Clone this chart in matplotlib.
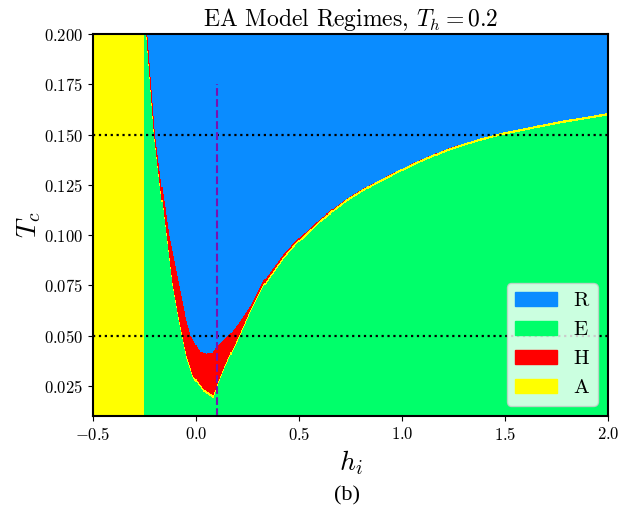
import numpy as np
import matplotlib
matplotlib.use("Agg")
import matplotlib.pyplot as plt
from matplotlib.colors import ListedColormap
from matplotlib.patches import Patch

plt.rcParams['font.family'] = ['cmr10', 'DejaVu Serif']
plt.rcParams['mathtext.fontset'] = 'cm'
plt.rcParams['axes.formatter.use_mathtext'] = True
plt.rcParams['axes.unicode_minus'] = True

# regimes, in plotting order
regime_labels = ['R', 'E', 'H', 'A']
regime_colors = ['#0a8cff', '#00ff6a', '#ff0000', '#ffff00']

# A regime for h_i below this
h_a = -0.25

# outer edge of the V (E below it)
outer_h = [-0.242, -0.204, -0.175, -0.145, -0.115, -0.086, -0.069, -0.045, -0.013,
           0.035, 0.084, 0.110, 0.140, 0.175, 0.214, 0.260, 0.330, 0.424, 0.489,
           0.602, 0.732, 0.845, 0.950, 1.055, 1.217, 1.379, 1.508, 1.767, 2.0]
outer_T = [0.2, 0.150, 0.1244, 0.100, 0.0749, 0.0584, 0.050, 0.0385, 0.0286,
           0.022, 0.0187, 0.0260, 0.0335, 0.0415, 0.050, 0.0605, 0.0745, 0.088, 0.0955,
           0.1063, 0.1165, 0.1235, 0.1290, 0.1345, 0.1415, 0.1468, 0.1502, 0.1555, 0.1595]

# inner edge (R above it)
inner_h = [-0.236, -0.198, -0.166, -0.130, -0.080, -0.048, -0.025, 0.019, 0.050,
           0.078, 0.100, 0.165, 0.220, 0.270, 0.330, 0.424, 0.489, 0.602, 0.732,
           0.845, 0.950, 1.055, 1.217, 1.379, 1.508, 1.767, 2.0]
inner_T = [0.2, 0.150, 0.1244, 0.100, 0.0749, 0.0584, 0.050, 0.0418, 0.0410,
           0.0412, 0.0443, 0.0505, 0.0580, 0.0655, 0.0775, 0.0905, 0.0977, 0.1081, 0.1180,
           0.1249, 0.1303, 0.1358, 0.1428, 0.1480, 0.1514, 0.1567, 0.1607]

# width of the A fringe along the outer edge
fringe = 0.0012

h_grid = np.arange(-0.5, 2.0001, 0.005)
T_grid = np.arange(0.01, 0.2001, 0.0005)

H, T = np.meshgrid(h_grid, T_grid)
t_out = np.interp(H, outer_h, outer_T)
t_in = np.interp(H, inner_h, inner_T)
regime = np.ones(H.shape, dtype=int)
regime[T >= t_out] = 3
regime[T >= t_out + fringe] = 2
regime[T >= t_in] = 0
regime[H < h_a] = 3

fig = plt.figure(figsize=(6.43, 5.24), dpi=100)
ax = fig.add_axes([0.1446, 0.206, 0.801, 0.729])
cmap = ListedColormap(regime_colors)
ax.pcolormesh(h_grid, T_grid, regime, cmap=cmap, vmin=-0.5, vmax=3.5, shading='nearest')
ax.set_xlim(-0.5, 2.0)
ax.set_ylim(0.01, 0.2)

ax.axhline(0.05, color='black', ls=':', lw=1.6)
ax.axhline(0.15, color='black', ls=':', lw=1.6)
ax.vlines(0.1, 0.01, 0.175, colors='#7a10b0', linestyles='--', lw=1.5)

ax.set_xticks([-0.5, 0.0, 0.5, 1.0, 1.5, 2.0])
ax.set_yticks([0.025, 0.05, 0.075, 0.1, 0.125, 0.15, 0.175, 0.2])
ax.tick_params(labelsize=12)
for s in ax.spines.values():
    s.set_linewidth(1.5)

ax.set_title('EA Model Regimes, $T_h = 0.2$', fontsize=17)
ax.set_xlabel('$h_i$', fontsize=20)
ax.set_ylabel('$T_c$', fontsize=20, labelpad=1)

handles = [Patch(color=c, label=l) for c, l in zip(regime_colors, regime_labels)]
ax.legend(handles=handles, loc='lower right', fontsize=15)

fig.text(0.54, 0.045, '(b)', fontsize=16, family='Liberation Serif', ha='center')

fig.savefig('out.png', dpi=100)
